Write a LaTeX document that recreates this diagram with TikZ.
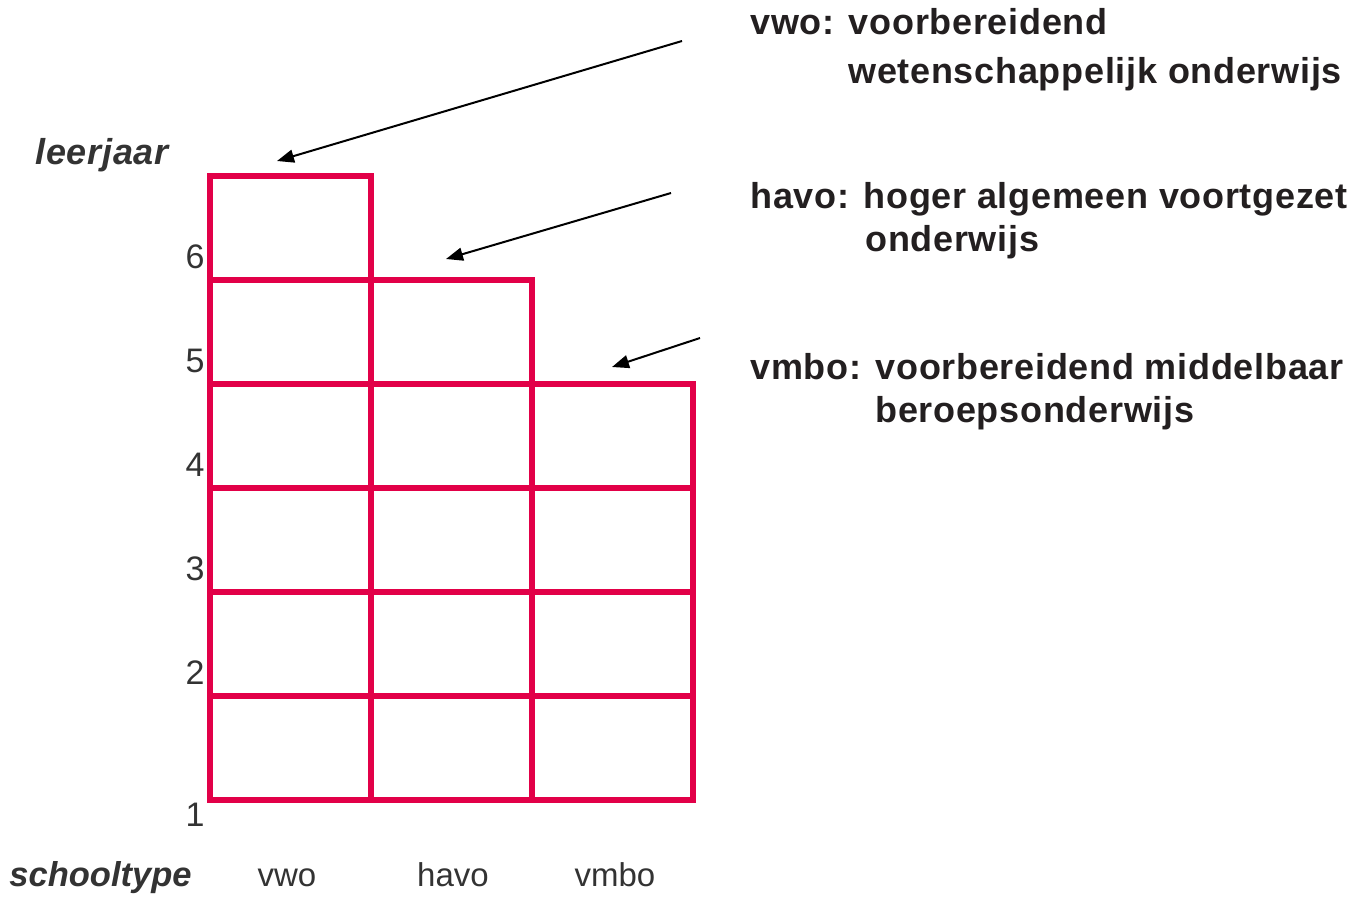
\documentclass[tikz,border=0pt]{standalone}
\usepackage{fontspec}
\setmainfont{Liberation Sans}
\usetikzlibrary{arrows.meta}
\definecolor{gridred}{RGB}{226,0,72}
\definecolor{axisgray}{RGB}{51,51,51}
\definecolor{deftext}{RGB}{35,31,32}
\newfontfamily\deffont[LetterSpace=2]{Liberation Sans}
\newfontfamily\axisfont[LetterSpace=2]{Liberation Sans}
\begin{document}
\begin{tikzpicture}[x=0.5pt,y=-0.5pt,
  gridline/.style={draw=gridred,line width=3pt,line join=miter},
  pointer/.style={draw=black,line width=1pt,-{Triangle[length=8.5pt,width=6.5pt]}},
  deftxt/.style={anchor=base west,inner sep=0pt,text=deftext,font=\deffont\bfseries\fontsize{18}{21}\selectfont},
  axistitle/.style={inner sep=0pt,text=axisgray,font=\axisfont\bfseries\itshape\fontsize{18}{21}\selectfont},
  typetitle/.style={inner sep=0pt,text=axisgray,font=\bfseries\itshape\fontsize{17.25}{20}\selectfont},
  tick/.style={anchor=base,inner sep=0pt,text=axisgray,font=\fontsize{17}{20}\selectfont},
  coltxt/.style={anchor=base,inner sep=0pt,text=axisgray,font=\fontsize{16.5}{20}\selectfont}
]
\useasboundingbox (0,0) rectangle (1362,896);

% grid
\draw[gridline] (210,800) -- (210,176) -- (371,176) -- (371,280) -- (532,280) -- (532,384) -- (693,384) -- (693,800) -- cycle;
\draw[gridline] (371,280) -- (371,800);
\draw[gridline] (532,384) -- (532,800);
\draw[gridline] (210,280) -- (371,280);
\draw[gridline] (210,384) -- (532,384);
\foreach \yy in {488,592,696} \draw[gridline] (210,\yy) -- (693,\yy);

% axis labels
\node[axistitle,anchor=base west] (leerjaar) at (35,164) {leerjaar};
\node[tick] (t6) at (195,268) {6};
\node[tick] (t5) at (195,372) {5};
\node[tick] (t4) at (195,476) {4};
\node[tick] (t3) at (195,580) {3};
\node[tick] (t2) at (195,684) {2};
\node[tick] (t1) at (195,826) {1};
\node[typetitle,anchor=base west] (schooltype) at (9,886) {schooltype};
\node[coltxt] (cvwo) at (287,886) {vwo};
\node[coltxt] (chavo) at (453,886) {havo};
\node[coltxt] (cvmbo) at (615,886) {vmbo};

% definitions
\node[deftxt] (d1a) at (750,34) {vwo: voorbereidend};
\node[deftxt] (d1b) at (848,83) {wetenschappelijk onderwijs};
\node[deftxt] (d2a) at (750,208) {havo: hoger algemeen voortgezet};
\node[deftxt] (d2b) at (865,251) {onderwijs};
\node[deftxt] (d3a) at (750,379) {vmbo: voorbereidend middelbaar};
\node[deftxt] (d3b) at (875,422) {beroepsonderwijs};

% arrows
\coordinate (a1s) at (682,41);
\coordinate (a1e) at (277,161);
\coordinate (a2s) at (671,193);
\coordinate (a2e) at (446,259);
\coordinate (a3s) at (700,338);
\coordinate (a3e) at (612,367);
\draw[pointer] (a1s) -- (a1e);
\draw[pointer] (a2s) -- (a2e);
\draw[pointer] (a3s) -- (a3e);
\end{tikzpicture}
\end{document}
